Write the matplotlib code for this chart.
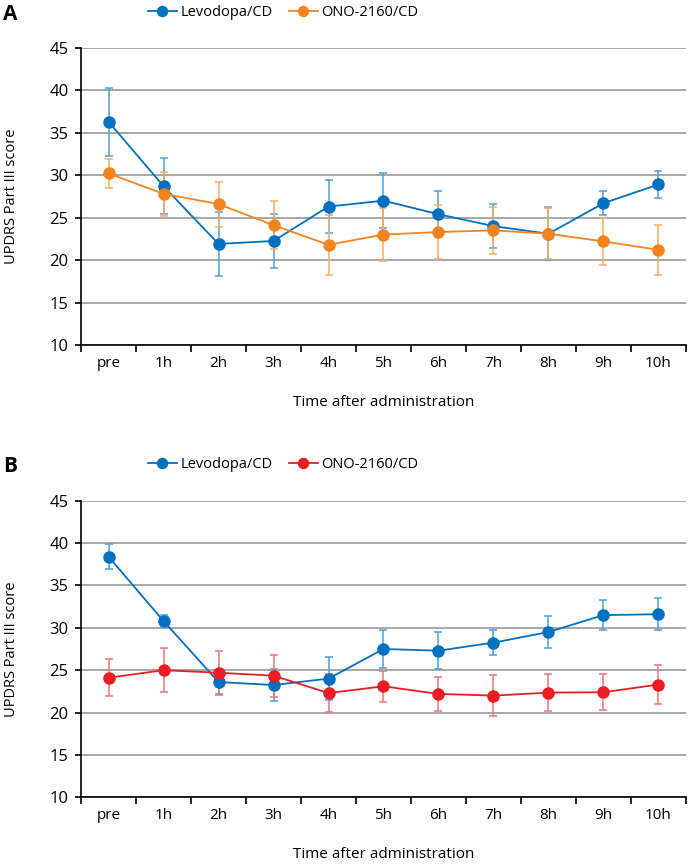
import matplotlib
matplotlib.use("Agg")
import matplotlib.pyplot as plt

plt.rcParams['font.family'] = ['Open Sans', 'DejaVu Sans']

times = ['pre', '1h', '2h', '3h', '4h', '5h', '6h', '7h', '8h', '9h', '10h']

# panel A
levo_a = [36.3, 28.7, 21.9, 22.25, 26.3, 27.0, 25.4, 24.0, 23.1, 26.7, 28.9]
levo_a_err = [4.0, 3.3, 3.8, 3.2, 3.1, 3.2, 2.7, 2.6, 3.1, 1.4, 1.6]
ono_a = [30.2, 27.8, 26.6, 24.1, 21.8, 23.0, 23.3, 23.5, 23.1, 22.2, 21.2]
ono_a_err = [1.7, 2.6, 2.65, 2.8, 3.5, 3.1, 3.2, 2.8, 3.0, 2.8, 2.9]

# panel B
levo_b = [38.4, 30.8, 23.6, 23.25, 24.0, 27.5, 27.3, 28.25, 29.5, 31.5, 31.6]
levo_b_err = [1.5, 0.7, 1.4, 1.9, 2.5, 2.2, 2.2, 1.5, 1.9, 1.8, 1.9]
ono_b = [24.1, 25.0, 24.7, 24.35, 22.3, 23.1, 22.2, 22.0, 22.35, 22.4, 23.3]
ono_b_err = [2.2, 2.6, 2.6, 2.5, 2.2, 1.8, 2.0, 2.4, 2.2, 2.1, 2.3]

blue, blue_err = '#0071C1', '#4AA0DA'
orange, orange_err = '#F5841F', '#F8AC66'
red, red_err = '#EC1C24', '#F0727A'


def panel(ax, s1, e1, s2, e2, c2, c2_err):
    x = list(range(len(times)))
    ax.errorbar(x, s1, yerr=e1, color=blue, ecolor=blue_err, elinewidth=1.1,
                capsize=3, capthick=1.1, marker='o', markersize=8, lw=1.3,
                label='Levodopa/CD', zorder=3)
    ax.errorbar(x, s2, yerr=e2, color=c2, ecolor=c2_err, elinewidth=1.1,
                capsize=3, capthick=1.1, marker='o', markersize=8, lw=1.3,
                label='ONO-2160/CD', zorder=3)
    ax.set_xlim(-0.5, len(times) - 0.5)
    ax.set_ylim(10, 45)
    ax.set_yticks(range(10, 50, 5))
    ax.yaxis.grid(True, color='#A0A0A0', lw=1.3)
    ax.set_axisbelow(True)
    ax.set_xticks([i - 0.5 for i in range(len(times) + 1)])
    ax.set_xticklabels([])
    ax.set_xticks(x, minor=True)
    ax.set_xticklabels(times, minor=True)
    ax.tick_params(axis='x', which='minor', length=0, pad=8, labelsize=11)
    ax.tick_params(axis='x', which='major', length=5, width=1.2)
    ax.tick_params(axis='y', length=4, width=1.2, labelsize=12, pad=5)
    for s in ['top', 'right']:
        ax.spines[s].set_visible(False)
    for s in ['left', 'bottom']:
        ax.spines[s].set_linewidth(1.2)
    ax.set_ylabel('UPDRS Part III score', fontsize=10.5)
    ax.yaxis.set_label_coords(-0.103, 0.5)
    ax.set_xlabel('Time after administration', fontsize=11, labelpad=17)


fig = plt.figure(figsize=(6.89, 8.64), dpi=100)
ax_a = fig.add_axes([0.1176, 0.6007, 0.878, 0.344])
ax_b = fig.add_axes([0.1176, 0.0772, 0.878, 0.3433])

panel(ax_a, levo_a, levo_a_err, ono_a, ono_a_err, orange, orange_err)
panel(ax_b, levo_b, levo_b_err, ono_b, ono_b_err, red, red_err)

for ax, y in [(ax_a, 1 - 13 / 864), (ax_b, 1 - 465 / 864)]:
    h, l = ax.get_legend_handles_labels()
    h = [hh[0] for hh in h]
    fig.legend(h, l, loc='center', bbox_to_anchor=(283 / 689, y), ncol=2,
               frameon=False, fontsize=10.5, handlelength=2, columnspacing=1.1,
               handletextpad=0.25, markerscale=0.9)

fig.text(0.005, 1 - 15 / 864, 'A', fontsize=15, fontweight='bold', va='center')
fig.text(0.005, 1 - 466 / 864, 'B', fontsize=15, fontweight='bold', va='center')

fig.savefig('out.png', dpi=100)
